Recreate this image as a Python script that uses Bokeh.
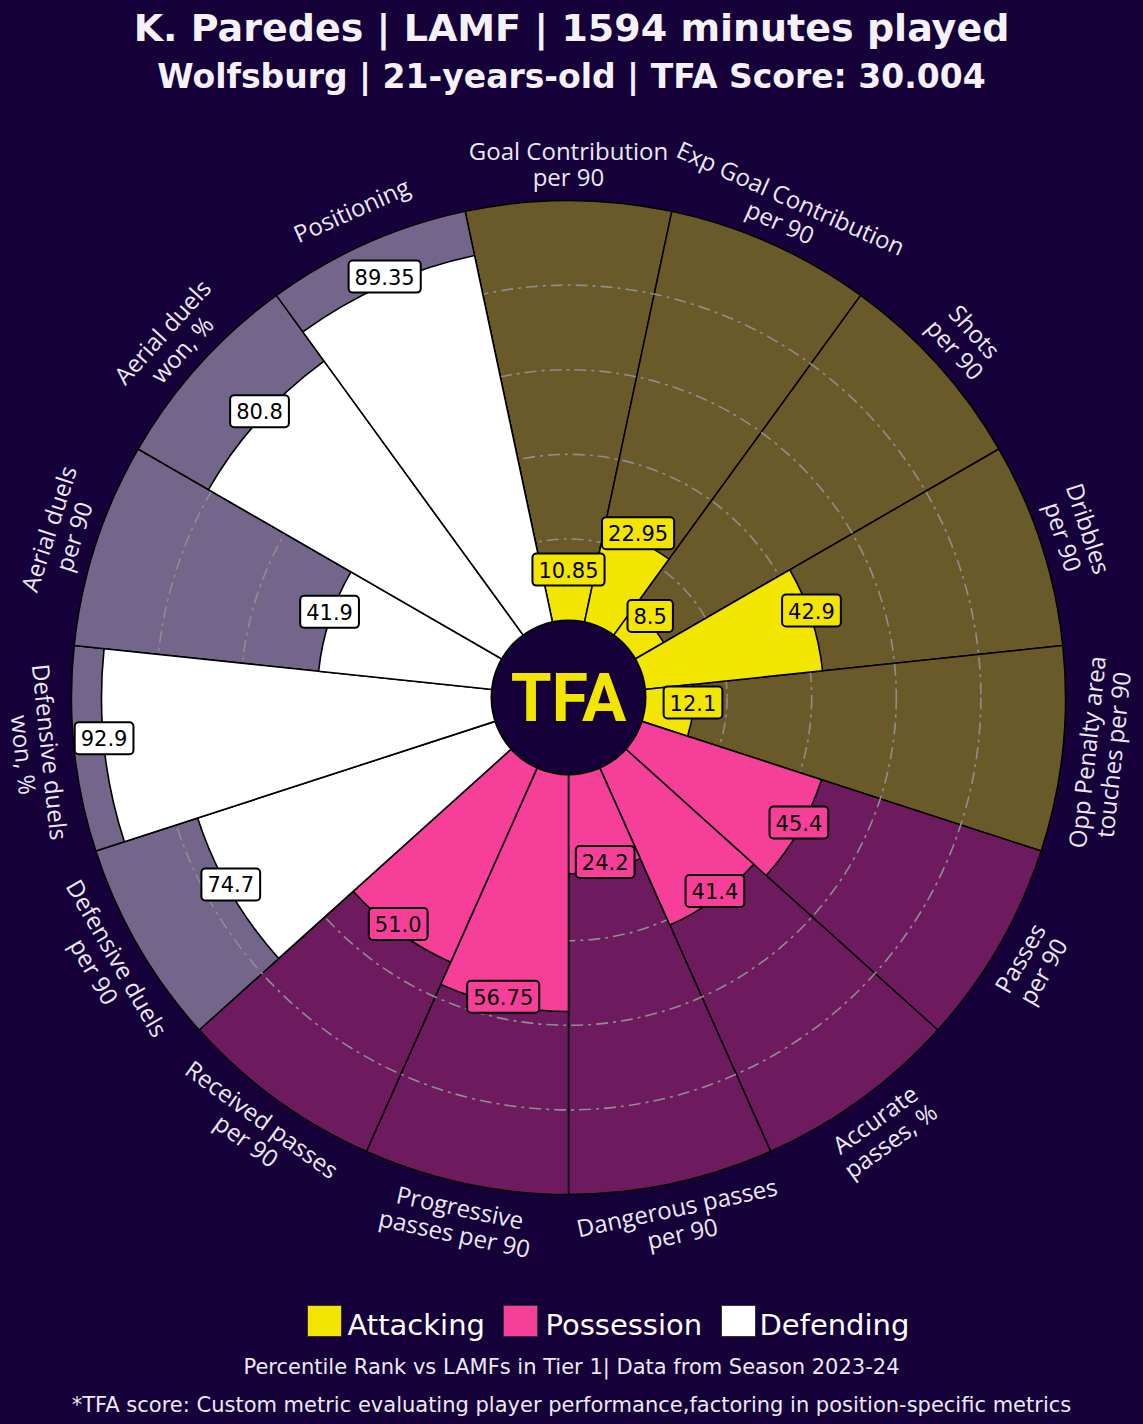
import numpy as np
from bokeh.plotting import figure
from bokeh.models import Range1d, ColumnDataSource
from bokeh.embed import file_html
from bokeh.resources import INLINE
from bokeh.core.properties import value

# ---------------- data ----------------
params = [
    "Goal Contribution\nper 90",
    "Exp Goal Contribution\nper 90",
    "Shots\nper 90",
    "Dribbles\nper 90",
    "Opp Penalty area\ntouches per 90",
    "Passes\nper 90",
    "Accurate\npasses, %",
    "Dangerous passes\nper 90",
    "Progressive\npasses per 90",
    "Received passes\nper 90",
    "Defensive duels\nper 90",
    "Defensive duels\nwon, %",
    "Aerial duels\nper 90",
    "Aerial duels\nwon, %",
    "Positioning",
]
values = [10.85, 22.95, 8.5, 42.9, 12.1, 45.4, 41.4, 24.2, 56.75, 51.0, 74.7, 92.9, 41.9, 80.8, 89.35]
groups = ["Attacking"] * 5 + ["Possession"] * 5 + ["Defending"] * 5
legend_labels = ["Attacking", "Possession", "Defending"]
grid_levels = [20, 40, 60, 80]

title_text = "K. Paredes | LAMF | 1594 minutes played"
subtitle_text = "Wolfsburg | 21-years-old | TFA Score: 30.004"
footer1 = "Percentile Rank vs LAMFs in Tier 1| Data from Season 2023-24"
footer2 = "*TFA score: Custom metric evaluating player performance,factoring in position-specific metrics"
logo_text = "TFA"

# ---------------- style ----------------
BG = "#16003a"
slice_colors = {"Attacking": "#f2e600", "Possession": "#f53f98", "Defending": "#ffffff"}
back_colors = {"Attacking": "#6b5a29", "Possession": "#6e1a5e", "Defending": "#74668a"}
TXT = "#ece8f4"

W, H = 1143, 1424
cx, cy = 568, H - 697
r0, R = 74, 497
r_hole = 77
r_param = 534
label_dy = 8

def Y(y_img):
    return H - y_img

p = figure(width=W, height=H, x_range=Range1d(0, W), y_range=Range1d(0, H),
           output_backend="svg", toolbar_location=None, min_border=0,
           x_axis_location=None, y_axis_location=None,
           background_fill_color=BG, border_fill_color=BG, outline_line_color=None)
p.grid.visible = False

n = len(params)
step = 360.0 / n
centers = np.array([90 - step * i for i in range(n)])
ang = np.radians(centers)
half = np.radians(step / 2)
vals = np.array(values)
rv = r0 + (R - r0) * vals / 100.0

cmod = np.mod(centers, 360)
rot = np.where(cmod < 180, cmod - 90, cmod + 90)

src = ColumnDataSource(dict(
    start=ang - half, end=ang + half, r=rv,
    bg=[back_colors[g] for g in groups],
    fc=[slice_colors[g] for g in groups],
    lx=cx + rv * np.cos(ang), ly=cy + rv * np.sin(ang) + label_dy,
    label=[str(v) for v in values],
    px=cx + r_param * np.cos(ang), py=cy + r_param * np.sin(ang),
    prot=np.radians(rot), ptext=params,
))

# background slices
p.annular_wedge(x=cx, y=cy, inner_radius=r0, outer_radius=R, start_angle="start", end_angle="end",
                fill_color="bg", line_color="black", line_width=1.5, source=src)
# grid rings
for g in grid_levels:
    p.circle(x=cx, y=cy, radius=r0 + (R - r0) * g / 100.0, fill_color=None,
             line_color="#8e8e8e", line_width=1.6, line_dash="12 5 3 5")
# value slices
p.annular_wedge(x=cx, y=cy, inner_radius=r0, outer_radius="r", start_angle="start", end_angle="end",
                fill_color="fc", line_color="black", line_width=1.6, source=src)
# centre hole
p.circle(x=cx, y=cy, radius=r_hole, fill_color=BG, line_color="black", line_width=2)
p.text(x=[cx], y=[cy - 1], text=[logo_text], text_font=value("Roboto"), text_font_style="bold",
       text_font_size="66px", text_color="#f2e600", text_align="center", text_baseline="middle")

# value labels
p.text(x="lx", y="ly", text="label", source=src, text_font=value("DejaVu Sans"),
       text_font_size="21px", text_color="black", text_align="center", text_baseline="middle",
       background_fill_color="fc", border_line_color="black", border_line_width=2,
       padding=(6, 8), border_radius=4)

# parameter labels
p.text(x="px", y="py", text="ptext", angle="prot", source=src, text_font=value("Open Sans"),
       text_font_size="24px", text_color=TXT, text_align="center", text_baseline="middle",
       text_line_height=0.8)

# titles
p.text(x=[571], y=[Y(27)], text=[title_text], text_font=value("DejaVu Sans"), text_font_style="bold",
       text_font_size="38px", text_color="#f4f2f8", text_align="center", text_baseline="middle")
p.text(x=[571], y=[Y(76)], text=[subtitle_text], text_font=value("DejaVu Sans"), text_font_style="bold",
       text_font_size="33px", text_color="#f4f2f8", text_align="center", text_baseline="middle")

# legend
sq_x = [324, 520, 738]
tx_x = [347, 545, 759]
p.rect(x=sq_x, y=[Y(1320.5)] * 3, width=34, height=31,
       fill_color=[slice_colors[g] for g in legend_labels], line_color="#333333", line_width=1)
p.text(x=tx_x, y=[Y(1324)] * 3, text=legend_labels, text_font=value("DejaVu Sans"),
       text_font_size="29px", text_color="white", text_align="left", text_baseline="middle")

p.text(x=[571], y=[Y(1366)], text=[footer1], text_font=value("DejaVu Sans"), text_font_size="21px",
       text_color=TXT, text_align="center", text_baseline="middle")
p.text(x=[571], y=[Y(1404)], text=[footer2], text_font=value("DejaVu Sans"), text_font_size="21px",
       text_color=TXT, text_align="center", text_baseline="middle")

html = file_html(p, INLINE)
html = html.replace("</head>", "<style>body{background:%s;}</style></head>" % BG, 1)
open("out.html", "w").write(html)
